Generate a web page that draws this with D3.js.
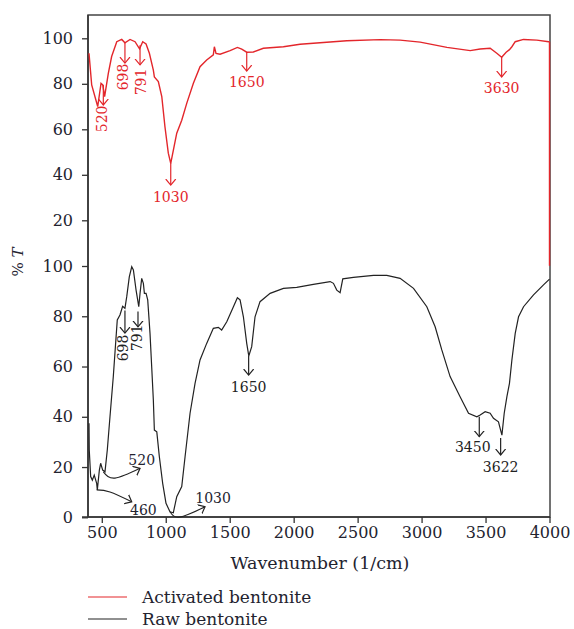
<!DOCTYPE html>
<html>
<head>
<meta charset="utf-8">
<script src="https://cdn.jsdelivr.net/npm/d3@7"></script>
<style>
  body { margin: 0; background: #fff; }
  svg text { font-family: "DejaVu Serif", "Liberation Serif", serif; }
</style>
</head>
<body>
<svg id="chart" width="574" height="629"></svg>
<script>
// activated bentonite, upper panel: [wavenumber, %T]
const activated = [
  [400, 93.4], [421, 79.5], [468, 70], [494, 80.2], [508, 79.5], [522, 74.4], [551, 84.6],
  [577, 92], [617, 98.5], [656, 99.5], [681, 98], [721, 99.5], [760, 98.5], [795, 95.4],
  [820, 98.5], [846, 97.5], [872, 93.4], [903, 86], [911, 83], [942, 81], [969, 74.4],
  [994, 61], [1020, 49.5], [1039, 45], [1065, 52.4], [1086, 58.3], [1125, 64], [1164, 71.4],
  [1216, 80.2], [1268, 87.5], [1320, 90.5], [1372, 92.7], [1380, 96.3], [1393, 93.4],
  [1425, 93], [1503, 94.6], [1560, 96], [1594, 95.2], [1633, 93.9], [1685, 94], [1763, 95.6],
  [1920, 96.3], [2050, 97.4], [2154, 97.8], [2415, 98.9], [2676, 99.4], [2832, 99.2],
  [2989, 98.3], [3198, 96], [3380, 94.6], [3458, 95.3], [3536, 95.6], [3588, 93.4],
  [3626, 91.7], [3661, 93.9], [3687, 95], [3706, 96.3], [3732, 98.5], [3797, 99.5],
  [3901, 99.2], [3993, 98.5], [4000, 98.3], [4000, 0]
];

// raw bentonite, lower panel
const raw = [
  [400, 37.4], [402, 26.8], [413, 16.2], [426, 14.8], [441, 16.8], [460, 13.5], [465, 10.9],
  [481, 18.8], [491, 21.5], [507, 18.8], [525, 18.1], [543, 26.8], [564, 40], [590, 56],
  [621, 78.5], [642, 80.5], [663, 84], [681, 83.2], [695, 87.8], [715, 95.7], [734, 99.7],
  [747, 98.4], [768, 90.4], [789, 83.8], [799, 89.1], [812, 95.1], [825, 93.1], [833, 89.1],
  [846, 89.1], [859, 86.5], [877, 73.2], [890, 60], [903, 46.7], [911, 34.7], [930, 34],
  [950, 24.1], [976, 13.5], [1002, 5.6], [1033, 2.2], [1059, 1.8], [1086, 8.2], [1125, 12.2],
  [1151, 24.1], [1190, 41.4], [1229, 53.3], [1268, 62.6], [1320, 69.2], [1372, 75.2],
  [1411, 75.6], [1437, 74.5], [1477, 77.8], [1529, 83.8], [1560, 87.4], [1581, 86.5],
  [1607, 79.8], [1633, 69.2], [1649, 64.2], [1672, 67.9], [1698, 79.8], [1737, 85.8],
  [1816, 89.1], [1920, 91.1], [2024, 91.5], [2154, 92.7], [2285, 93.8], [2311, 93.1],
  [2337, 90.4], [2363, 89.4], [2384, 94.9], [2467, 95.5], [2624, 96.3], [2728, 96.3],
  [2832, 95.1], [2937, 91.1], [3041, 83.8], [3106, 75.8], [3158, 66.6], [3223, 56],
  [3301, 48], [3367, 41.4], [3432, 40], [3458, 40.7], [3497, 42], [3536, 41.4], [3562, 39.4],
  [3601, 38], [3628, 32.7], [3646, 41.4], [3667, 48], [3687, 53.3], [3706, 62.6],
  [3732, 73.2], [3758, 79.8], [3797, 83.8], [3875, 88.5], [3953, 92.5], [4000, 94.8]
];

const xTicks = [500, 1000, 1500, 2000, 2500, 3000, 3500, 4000];
const yTicks = [0, 20, 40, 60, 80, 100];
const topTicks = [20, 40, 60, 80, 100];

// straight arrows: label, wavenumber, from, to, label position [wn, value], rotated?
const redMarks = [
  { t: "520", x: 512, y0: 79.5, y1: 70.7, lx: 500, ly: 64.6, rot: true },
  { t: "698", x: 681, y0: 97.9, y1: 89.1, lx: 666, ly: 83, rot: true },
  { t: "791", x: 799, y0: 97, y1: 88.3, lx: 810, ly: 80.8, rot: true },
  { t: "1030", x: 1039, y0: 45.2, y1: 35.5, lx: 1039, ly: 30.2 },
  { t: "1650", x: 1633, y0: 94, y1: 85.6, lx: 1633, ly: 80.8 },
  { t: "3630", x: 3626, y0: 91.8, y1: 83, lx: 3626, ly: 78.2 }
];
const blackMarks = [
  { t: "698", x: 681, y0: 82.3, y1: 73.3, lx: 666, ly: 67.4, rot: true },
  { t: "791", x: 783, y0: 81.9, y1: 75.8, lx: 775, ly: 71.4, rot: true },
  { t: "1650", x: 1648, y0: 64.2, y1: 56.6, lx: 1648, ly: 52 },
  { t: "3450", x: 3451, y0: 40, y1: 32.1, lx: 3400, ly: 28.1 },
  { t: "3622", x: 3618, y0: 31.6, y1: 24.8, lx: 3618, ly: 19.9 }
];
// curved arrows in the lower panel
const curveMarks = [
  { t: "520", pts: [[512, 18.1], [603, 15.6], [799, 19.5]], lx: 812, ly: 22.8 },
  { t: "460", pts: [[460, 10.9], [564, 10.1], [734, 6.2]], lx: 825, ly: 2.9 },
  { t: "1030", pts: [[1033, 2.2], [1111, 0.1], [1307, 4.2]], lx: 1370, ly: 7.6 }
];

const red = "#e3262b", dark = "#222";
const svg = d3.select("#chart");
const pL = 88, pR = 550, pT = 15, pB = 517;

const x = d3.scaleLinear().domain([400, 4000]).range([89, 549.5]);
const yTop = d3.scaleLinear().domain([0, 100]).range([265.8, 38.3]);
const yBot = d3.scaleLinear().domain([0, 100]).range([517.3, 266]);

const defs = svg.append("defs");
[["ar", red], ["ab", dark]].forEach(([id, c]) => {
  defs.append("marker").attr("id", id).attr("viewBox", "-6 -6 12 12")
    .attr("markerWidth", 12).attr("markerHeight", 12).attr("markerUnits", "userSpaceOnUse")
    .attr("orient", "auto")
    .append("path").attr("d", "M-6,-5L0,0L-6,5").attr("fill", "none")
    .attr("stroke", c).attr("stroke-width", 1.2);
});

// frame
svg.append("rect").attr("x", pL).attr("y", pT)
  .attr("width", pR - pL).attr("height", pB - pT)
  .attr("fill", "none").attr("stroke", "#444").attr("stroke-width", 1.5);

// axes
const fmt = d3.format("d");
const xAxis = svg.append("g").attr("transform", `translate(0,${pB})`)
  .call(d3.axisBottom(x).tickValues(xTicks).tickFormat(fmt).tickSize(6).tickPadding(4));
const yAxis1 = svg.append("g").attr("transform", `translate(${pL},0)`)
  .call(d3.axisLeft(yBot).tickValues(yTicks).tickFormat(fmt).tickSize(6).tickPadding(9));
const yAxis2 = svg.append("g").attr("transform", `translate(${pL},0)`)
  .call(d3.axisLeft(yTop).tickValues(topTicks).tickFormat(fmt).tickSize(6).tickPadding(9));
[xAxis, yAxis1, yAxis2].forEach(g => {
  g.select(".domain").remove();
  g.selectAll("line").attr("stroke", "#333").attr("stroke-width", 1.3);
  g.selectAll("text").attr("font-family", "DejaVu Serif").attr("font-size", 16).attr("fill", "#23232f");
});
svg.append("line").attr("x1", pL).attr("x2", pL).attr("y1", pT).attr("y2", pB)
  .attr("stroke", "#333").attr("stroke-width", 1.5);
svg.append("line").attr("x1", pL - 6).attr("x2", pR).attr("y1", pB).attr("y2", pB)
  .attr("stroke", "#333").attr("stroke-width", 1.5);

// series
svg.append("path").datum(raw)
  .attr("d", d3.line().x(d => x(d[0])).y(d => yBot(d[1])))
  .attr("fill", "none").attr("stroke", dark).attr("stroke-width", 1.2);
svg.append("path").datum(activated)
  .attr("d", d3.line().x(d => x(d[0])).y(d => yTop(d[1])))
  .attr("fill", "none").attr("stroke", red).attr("stroke-width", 1.4);

// annotations
function arrows(list, ys, color, mk) {
  list.forEach(m => {
    svg.append("line").attr("x1", x(m.x)).attr("x2", x(m.x))
      .attr("y1", ys(m.y0)).attr("y2", ys(m.y1))
      .attr("stroke", color).attr("stroke-width", 1.2).attr("marker-end", `url(#${mk})`);
    const lx = x(m.lx), ly = ys(m.ly);
    svg.append("text").text(m.t)
      .attr("transform", m.rot ? `translate(${lx},${ly}) rotate(-90)` : `translate(${lx},${ly})`)
      .attr("text-anchor", "middle").attr("dy", "0.35em")
      .attr("font-size", 14).attr("fill", color);
  });
}
arrows(redMarks, yTop, red, "ar");
arrows(blackMarks, yBot, dark, "ab");

const cl = d3.line().x(d => x(d[0])).y(d => yBot(d[1])).curve(d3.curveNatural);
curveMarks.forEach(m => {
  svg.append("path").attr("d", cl(m.pts)).attr("fill", "none")
    .attr("stroke", dark).attr("stroke-width", 1.1).attr("marker-end", "url(#ab)");
  svg.append("text").text(m.t).attr("x", x(m.lx)).attr("y", yBot(m.ly))
    .attr("text-anchor", "middle").attr("dy", "0.35em")
    .attr("font-size", 14).attr("fill", "#23232f");
});

// axis titles
svg.append("text").text("Wavenumber (1/cm)").attr("x", 320).attr("y", 563)
  .attr("text-anchor", "middle").attr("dy", "0.35em").attr("font-size", 17.5).attr("fill", "#23232f");
const yl = svg.append("text").attr("transform", "translate(18,262) rotate(-90)")
  .attr("text-anchor", "middle").attr("dy", "0.35em").attr("font-size", 15).attr("fill", "#23232f");
yl.append("tspan").text("% ");
yl.append("tspan").text("T").attr("font-style", "italic");

// legend
const legend = [["Activated bentonite", red], ["Raw bentonite", dark]];
legend.forEach(([name, c], i) => {
  const ly = 597 + i * 22;
  svg.append("line").attr("x1", 88).attr("x2", 127).attr("y1", ly).attr("y2", ly)
    .attr("stroke", c).attr("stroke-width", 1.2);
  svg.append("text").text(name).attr("x", 142).attr("y", ly).attr("dy", "0.35em")
    .attr("font-size", 17).attr("fill", "#23232f");
});
</script>
</body>
</html>
